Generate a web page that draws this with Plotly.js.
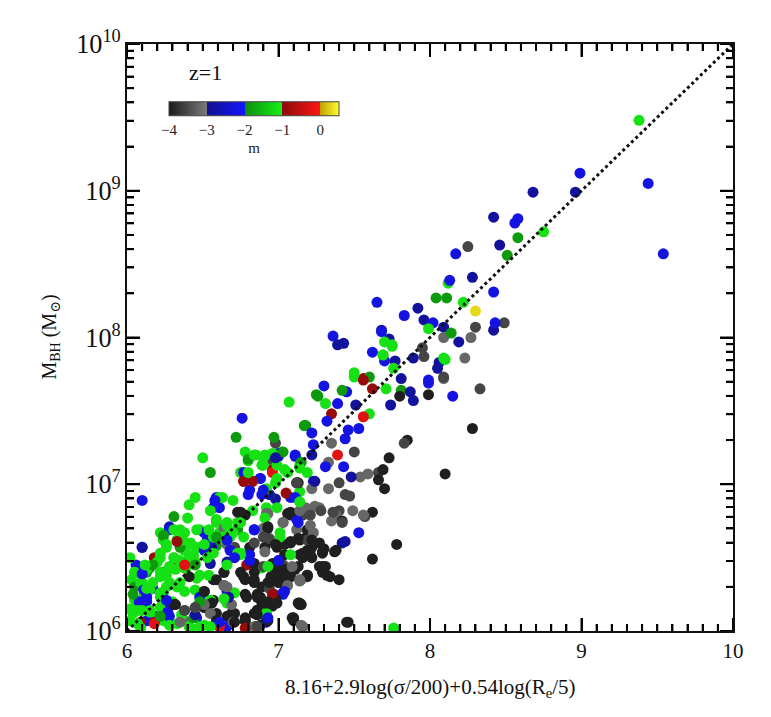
<!DOCTYPE html>
<html>
<head>
<meta charset="utf-8">
<script src="https://cdn.plot.ly/plotly-3.0.1.min.js"></script>
<style>html,body{margin:0;padding:0;background:#fff;}#chart{width:771px;height:717px;}</style>
</head>
<body>
<div id="chart"></div>
<script>
// Accretion-rate (log m-dot) value of each colour class
const mdotBlack = -3.95, mdotDarkGray = -3.55, mdotGray = -3.2, mdotDarkBlue = -2.85, mdotBlue = -2.25,
      mdotDarkGreen = -1.85, mdotGreen = -1.15, mdotDarkRed = -0.9, mdotRed = -0.25, mdotYellow = 0.3;

// x = 8.16+2.9log(sigma/200)+0.54log(Re/5) ; logM = log10(M_BH/Msun)
const blackX = [7.78,7.62,7.46,7.62,7.42,7.70,7.69,7.73,7.40,7.34,7.29,7.15,7.10,7.19,7.38,7.30,7.07,6.93,7.08,7.01,6.95,6.88,6.90,6.96,6.93,6.88,
  7.13,7.08,6.73,6.78,6.92,7.19,7.22,7.27,7.19,7.14,6.99,7.04,7.27,7.19,7.13,7.04,6.98,7.06,6.94,6.89,6.98,6.92,6.84,6.78,6.57,6.51,6.59,6.64,6.75,6.78,6.84,6.84,6.41,6.31,6.51,6.59,6.71,6.28,
  6.71,6.78,6.78,7.37,7.32,7.29,7.22,7.17,7.13,7.08,7.16,7.22,7.13,7.01,6.93,6.86,6.89,6.94,6.99,6.86,6.86,7.14,7.09,7.45,7.99,7.80,8.28,8.10,7.66,7.85,
  6.75,7.12,7.06,6.93,6.94,7.08,7.14,6.81,6.98,7.04,7.16,7.21,7.29,7.31,7.29,7.19,7.11,7.08,6.99,7.00,6.84,6.77,6.79,6.86,6.89,6.93,6.86,6.92,7.10,6.78,6.69,7.14,6.84,6.96,6.91,
  6.51,6.57,6.64,6.32,6.53,6.59,6.66,6.56];
const blackLogM = [6.59,6.49,6.06,6.81,6.75,6.97,7.10,7.18,6.35,6.37,6.44,6.18,6.09,6.37,6.55,6.56,6.80,6.71,6.60,6.41,6.37,6.23,6.19,6.17,6.07,6.04,
  7.01,6.81,6.81,6.79,6.70,6.69,6.62,6.60,6.55,6.52,6.57,6.52,6.44,6.38,6.19,6.42,6.40,6.35,6.33,6.30,6.22,6.19,6.12,6.07,6.21,6.27,6.35,6.40,6.40,6.35,6.33,6.40,6.37,6.18,6.16,6.12,6.06,6.70,
  6.12,6.09,6.25,6.54,6.38,6.54,6.57,6.63,6.63,6.79,6.50,6.50,6.44,6.38,6.33,6.25,6.21,6.20,6.19,6.14,6.11,6.18,6.09,6.06,7.61,7.60,7.38,7.07,7.03,7.30,
  6.81,7.01,6.80,6.70,6.62,6.61,6.62,6.57,6.59,6.59,6.53,6.52,6.53,6.44,6.40,6.38,6.42,6.37,6.40,6.33,6.35,6.37,6.23,6.23,6.19,6.20,6.14,6.07,6.07,6.07,6.12,6.19,6.46,6.46,6.57,
  6.27,6.35,6.40,6.18,6.16,6.07,6.10,6.19];
const darkGrayX = [7.83,7.50,7.47,7.44,7.40,7.57,7.66,8.25,8.49,7.96,8.09,6.98,7.21,7.28,6.94,7.12,6.94,7.19,6.90,6.45,6.64,6.41,6.84,7.42,7.40,7.36,7.16,6.94,6.86,8.33,8.30,7.95,
  6.38,6.45,6.71,6.90,7.03];
const darkGrayLogM = [7.28,7.22,6.92,6.93,7.01,6.78,7.08,8.62,8.10,7.87,7.73,7.28,6.79,6.82,6.63,7.01,7.17,6.62,6.64,6.16,6.31,6.48,6.60,6.74,6.82,6.81,6.79,6.29,6.03,7.65,8.07,7.93,
  6.14,6.16,6.57,6.44,6.45];
const grayX = [8.27,8.09,8.23,8.09,7.59,7.54,7.49,7.33,7.15,7.15,7.22,7.03,7.03,6.90,7.22,7.24,6.92,7.18,7.09,7.06,6.84,6.35,6.38,6.55,6.64,7.38,7.56,7.35,7.23,7.21,7.27,7.14,7.04,7.16,7.35,7.33,
  6.93,7.03,7.12,7.14,6.66,7.14,7.04,6.91,6.69,7.16,6.70,6.38,6.51,6.66,6.64];
const grayLogM = [8.00,8.00,7.86,7.72,7.07,7.05,6.82,6.97,6.35,6.04,6.67,6.74,6.33,6.70,6.97,6.85,6.80,6.84,6.44,6.31,6.03,6.06,6.14,6.12,6.31,6.79,6.79,6.75,6.67,6.72,6.84,6.34,6.31,6.03,7.28,7.15,
  6.80,6.74,6.69,6.82,6.59,6.35,6.33,6.54,6.18,6.03,6.06,6.07,6.18,6.30,6.70];
const darkBlueX = [8.96,8.68,8.42,8.46,8.28,7.92,7.96,7.68,8.09,8.42,8.19,7.73,7.89,8.06,7.77,8.05,7.81,7.39,7.43,7.87,7.89,7.74,7.51,7.22,7.48,7.24,6.98,7.44,7.00,6.92,6.66,6.28,6.45,7.11,6.94,6.98,7.42,
  6.10,6.26,6.55,6.67,6.20];
const darkBlueLogM = [8.99,8.99,8.82,8.63,8.41,8.20,8.12,8.05,8.07,8.05,7.97,7.99,7.86,7.83,7.84,7.79,7.72,7.95,7.96,7.63,7.57,7.54,7.54,7.20,7.05,7.02,6.90,6.61,6.48,6.06,6.47,6.70,6.11,7.19,6.93,7.18,6.60,
  6.57,6.19,6.46,6.23,6.10];
const blueX = [8.99,9.44,9.54,8.58,8.56,8.17,8.13,7.65,8.42,7.83,8.02,8.43,7.62,7.70,7.99,7.36,7.68,7.99,8.15,7.30,7.39,7.45,7.53,7.32,7.46,7.44,7.22,7.23,7.31,7.43,6.88,7.13,7.03,7.53,6.76,7.00,6.90,7.23,6.59,6.57,6.80,7.11,6.84,6.28,6.10,6.10,6.26,6.48,6.51,6.59,6.81,7.04,6.66,6.13,6.17,6.27,6.10,6.68,6.28,6.06,6.08,
  6.58,6.61,6.77,6.81,6.88,6.89,7.00,7.11,7.08,7.12,6.84,6.53,6.56,6.77,6.81,7.00,7.03,6.93,6.66,
  6.08,6.11,6.13,6.51,6.53,6.66,6.71,6.46,6.61,6.28,6.13];
const blueLogM = [9.12,9.05,8.57,8.81,8.78,8.57,8.39,8.24,8.31,8.15,8.10,8.10,7.90,7.84,7.71,8.01,8.04,7.69,7.60,7.67,7.55,7.63,7.38,7.43,7.37,7.31,7.35,7.27,7.12,7.12,7.04,6.74,6.26,6.67,7.45,7.19,6.96,7.02,6.91,6.84,6.93,6.91,6.69,6.69,6.89,6.57,6.21,6.23,6.55,6.63,6.48,6.27,6.03,6.23,6.29,6.13,6.39,6.55,6.10,6.45,6.20,
  6.89,6.84,7.08,6.96,7.04,6.93,7.21,7.20,6.91,6.76,6.69,6.62,6.57,6.79,6.52,6.48,6.25,6.09,6.27,
  6.40,6.28,6.20,6.67,6.62,6.62,6.50,6.09,6.06,6.71,6.07];
const darkRedX = [7.56,7.62,7.56,7.35,7.05,6.97,6.96,6.77,6.10,6.18,6.18,6.31,6.33,6.38,6.83,6.79,6.96,6.78,6.31,6.09];
const darkRedLogM = [7.72,7.65,7.71,7.48,6.94,6.25,7.10,7.02,6.06,6.06,6.50,6.45,6.61,6.43,7.02,6.45,6.25,6.02,6.45,6.06];
const redX = [7.56,7.39,6.96,6.38,6.61,6.18,6.77];
const redLogM = [7.46,7.20,7.08,6.45,6.03,6.05,7.02];
const darkGreenX = [8.58,8.51,8.04,8.11,8.14,7.69,7.60,7.81,7.26,7.42,7.18,7.15,6.97,7.03,6.72,6.55,6.80,7.17,6.31,6.59,6.73,6.05,6.13,6.24,6.45,6.15,6.22,7.25,6.04,
  6.24,6.35,6.48,6.33,6.44,6.17,6.59];
const darkGreenLogM = [8.68,8.56,8.27,8.27,8.03,7.88,7.73,7.64,7.60,7.64,7.40,7.15,7.32,7.22,7.32,7.08,7.17,7.40,6.78,6.64,6.69,6.30,6.40,6.40,6.45,6.43,6.10,7.61,6.25,
  6.65,6.57,6.20,6.31,6.09,6.45,6.58];
const greenX = [9.38,8.75,8.12,8.22,7.99,7.70,7.75,7.69,8.10,7.76,7.50,7.75,8.09,7.71,7.60,7.07,7.31,7.50,6.85,6.99,7.01,6.92,7.76,6.50,6.78,6.84,6.90,6.96,7.02,6.80,6.90,6.75,7.14,7.19,6.92,7.04,7.14,6.61,6.45,6.41,6.55,6.40,6.24,6.35,6.48,6.54,6.63,6.75,6.45,6.26,6.22,6.33,6.37,6.24,6.35,6.31,6.41,6.45,6.48,6.28,6.26,6.22,6.10,6.15,6.24,6.13,6.22,6.33,6.45,6.39,6.93,6.75,6.57,6.68,6.73,6.57,6.48,6.10,6.05,6.15,6.55,6.41,6.48,6.89,6.66,6.64,6.68,6.28,6.38,6.32,6.02,6.03,6.07,6.02,6.05,6.12,6.20,
  6.91,6.89,6.99,6.80,6.94,6.70,6.63,6.92,6.99,6.83,6.91,6.73,6.66,6.59,6.70,6.77,6.61,7.01,7.14,7.14,7.06,6.98,6.75,7.08,6.71,6.66,6.92,
  6.22,6.31,6.38,6.46,6.59,6.66,6.26,6.42,6.51,6.59,6.22,6.31,6.44,6.53,6.05,6.13,6.22,6.30,6.38,6.46,6.54,6.66,6.05,6.09,6.17,6.26,6.35,6.11,6.22,6.30,6.38,6.15,6.22,6.07,6.24,6.33,6.02,6.51,6.66,6.55,
  6.04,6.09,6.17,6.28,6.36,6.42];
const greenLogM = [9.48,8.72,8.37,8.24,8.06,7.97,7.94,7.88,7.85,7.79,7.76,7.95,7.86,7.65,7.48,7.56,7.55,7.73,7.20,7.04,6.67,6.12,6.02,7.18,7.22,7.20,7.18,7.21,7.22,7.16,7.13,7.08,7.11,7.08,6.97,7.10,6.95,6.91,6.91,6.86,6.82,6.77,6.65,6.69,6.69,6.69,6.64,6.74,6.57,6.57,6.53,6.62,6.62,6.62,6.48,6.50,6.50,6.47,6.38,6.44,6.38,6.37,6.33,6.28,6.26,6.29,6.23,6.30,6.28,6.43,6.44,6.53,6.64,6.64,6.53,6.53,6.57,6.14,6.21,6.13,6.03,6.03,6.03,6.43,6.19,6.22,6.68,6.33,6.55,6.42,6.15,6.35,6.05,6.50,6.40,6.45,6.47,
  7.20,7.13,7.13,7.08,6.93,6.89,6.91,6.84,6.84,6.82,6.77,6.74,6.74,6.76,6.67,6.64,6.67,6.64,6.88,7.13,7.08,7.01,6.52,6.52,6.26,6.20,6.13,
  6.67,6.69,6.67,6.69,6.74,6.72,6.59,6.60,6.59,6.61,6.50,6.50,6.52,6.50,6.40,6.42,6.40,6.43,6.43,6.36,6.38,6.45,6.31,6.33,6.33,6.30,6.33,6.23,6.26,6.20,6.27,6.14,6.16,6.14,6.07,6.05,6.07,6.04,6.20,6.21,
  6.12,6.02,6.09,6.04,6.11,6.02];
const yellowX = [8.30];
const yellowLogM = [8.18];

// one-to-one relation
const lineX = [6, 10];
const lineM = [1e6, 1e10];

const xTickVals = [6, 7, 8, 9, 10];
const cbTickVals = [-4, -3, -2, -1, 0];
const cbTickText = ['\u22124', '\u22123', '\u22122', '\u22121', '0'];

const groups = [
  [blackX, blackLogM, mdotBlack], [darkGrayX, darkGrayLogM, mdotDarkGray], [grayX, grayLogM, mdotGray],
  [darkBlueX, darkBlueLogM, mdotDarkBlue], [blueX, blueLogM, mdotBlue],
  [darkRedX, darkRedLogM, mdotDarkRed], [redX, redLogM, mdotRed],
  [darkGreenX, darkGreenLogM, mdotDarkGreen], [greenX, greenLogM, mdotGreen], [yellowX, yellowLogM, mdotYellow]
];
// interleave the classes a little so overlaps look mixed
const pts = [];
groups.forEach((g, gi) => {
  g[0].forEach((v, i) => { pts.push({x: v, y: Math.pow(10, g[1][i]), c: g[2], k: (i * 7 + gi * 3) % 5}); });
});
pts.sort((a, b) => a.k - b.k);
const px = pts.map(p => p.x), py = pts.map(p => p.y), pc = pts.map(p => p.c);

const cscale = [
  [0, '#1a1a1a'], [0.2220, '#7a7a7a'],
  [0.2223, '#12128c'], [0.4442, '#1414ff'],
  [0.4445, '#0c8c0c'], [0.6664, '#16f016'],
  [0.6667, '#8c0a0a'], [0.8886, '#ff1414'],
  [0.8889, '#c0a000'], [1, '#ffff30']
];

const font = 'Liberation Serif, DejaVu Serif, serif';

// Frame tick marks as pixel-sized shapes anchored on the axes' own scales
const MAJOR = 13, MINOR = 7;
const tickShapes = [];
const tl = {color: '#000', width: 2};
for (let i = 0; i <= 40; i++) {
  const v = (60 + i) / 10;
  const L = (i % 10 === 0) ? MAJOR : MINOR;
  tickShapes.push({type: 'line', xref: 'x', yref: 'paper', x0: v, x1: v, ysizemode: 'pixel', yanchor: 0, y0: 0, y1: L, line: tl, layer: 'above'});
  tickShapes.push({type: 'line', xref: 'x', yref: 'paper', x0: v, x1: v, ysizemode: 'pixel', yanchor: 1, y0: 0, y1: -L, line: tl, layer: 'above'});
}
for (let e = 6; e <= 10; e++) {
  for (let d = 1; d <= 9; d++) {
    if (e === 10 && d > 1) break;
    const v = d * Math.pow(10, e);
    const L = (d === 1) ? MAJOR : MINOR;
    tickShapes.push({type: 'line', yref: 'y', xref: 'paper', y0: v, y1: v, xsizemode: 'pixel', xanchor: 0, x0: 0, x1: L, line: tl, layer: 'above'});
    tickShapes.push({type: 'line', yref: 'y', xref: 'paper', y0: v, y1: v, xsizemode: 'pixel', xanchor: 1, x0: 0, x1: -L, line: tl, layer: 'above'});
  }
}

const traces = [
  {
    type: 'scatter', mode: 'markers', x: px, y: py,
    marker: {
      size: 11, color: pc, colorscale: cscale, cmin: -4, cmax: 0.5, line: {width: 0},
      showscale: true,
      colorbar: {
        orientation: 'h', x: 0.2096, xanchor: 'center', y: 0.855, yanchor: 'middle',
        len: 170, lenmode: 'pixels', thickness: 14, thicknessmode: 'pixels',
        tickvals: cbTickVals, ticktext: cbTickText, ticks: '',
        tickfont: {family: font, size: 15, color: '#222'},
        title: {text: 'm', side: 'bottom', font: {family: font, size: 15, color: '#222'}},
        outlinewidth: 1, outlinecolor: '#444', xpad: 0, ypad: 0
      }
    },
    hoverinfo: 'skip'
  },
  {
    type: 'scatter', mode: 'lines', x: lineX, y: lineM,
    line: {color: '#111', width: 3, dash: 'dot'}, hoverinfo: 'skip'
  }
];

const layout = {
  width: 771, height: 717,
  margin: {l: 127, r: 38, t: 44, b: 86},
  showlegend: false,
  font: {family: font, color: '#111'},
  xaxis: {
    range: [6, 10], tickvals: xTickVals, ticks: 'inside', ticklen: MAJOR, tickwidth: 2, tickcolor: '#000',
    minor: {dtick: 0.1, ticks: 'inside', ticklen: MINOR, tickwidth: 2, tickcolor: '#000'},
    showline: true, linecolor: '#111', linewidth: 2, mirror: 'ticks', showgrid: false, zeroline: false,
    tickfont: {family: font, size: 21, color: '#111'}
  },
  yaxis: {
    type: 'log', range: [6, 10], dtick: 1, exponentformat: 'power',
    ticks: 'inside', ticklen: MAJOR, tickwidth: 2, tickcolor: '#000',
    minor: {dtick: 'D1', ticks: 'inside', ticklen: MINOR, tickwidth: 2, tickcolor: '#000'},
    showline: true, linecolor: '#111', linewidth: 2, mirror: 'ticks', showgrid: false, zeroline: false,
    tickfont: {family: font, size: 21, color: '#111'}
  },
  shapes: tickShapes,
  annotations: [
    {xref: 'paper', yref: 'paper', x: 0.5, y: -0.097, text: '8.16+2.9log(\u03c3/200)+0.54log(R<sub>e</sub>/5)',
     showarrow: false, xanchor: 'center', yanchor: 'middle', font: {family: font, size: 21, color: '#111'}},
    {xref: 'paper', yref: 'paper', x: -0.127, y: 0.5, text: 'M<sub>BH</sub> (M<sub>\u2299</sub>)', textangle: -90,
     showarrow: false, xanchor: 'center', yanchor: 'middle', font: {family: font, size: 20, color: '#111'}},
    {xref: 'paper', yref: 'paper', x: 0.129, y: 0.952, text: 'z=1', showarrow: false,
     xanchor: 'center', yanchor: 'middle', font: {family: font, size: 22, color: '#111'}},
    {xref: 'paper', yref: 'paper', x: 0.199, y: 0.842, text: '\u02da', showarrow: false,
     xanchor: 'center', yanchor: 'middle', font: {family: font, size: 10, color: '#222'}}
  ]
};

Plotly.newPlot('chart', traces, layout, {displayModeBar: false});
</script>
</body>
</html>
